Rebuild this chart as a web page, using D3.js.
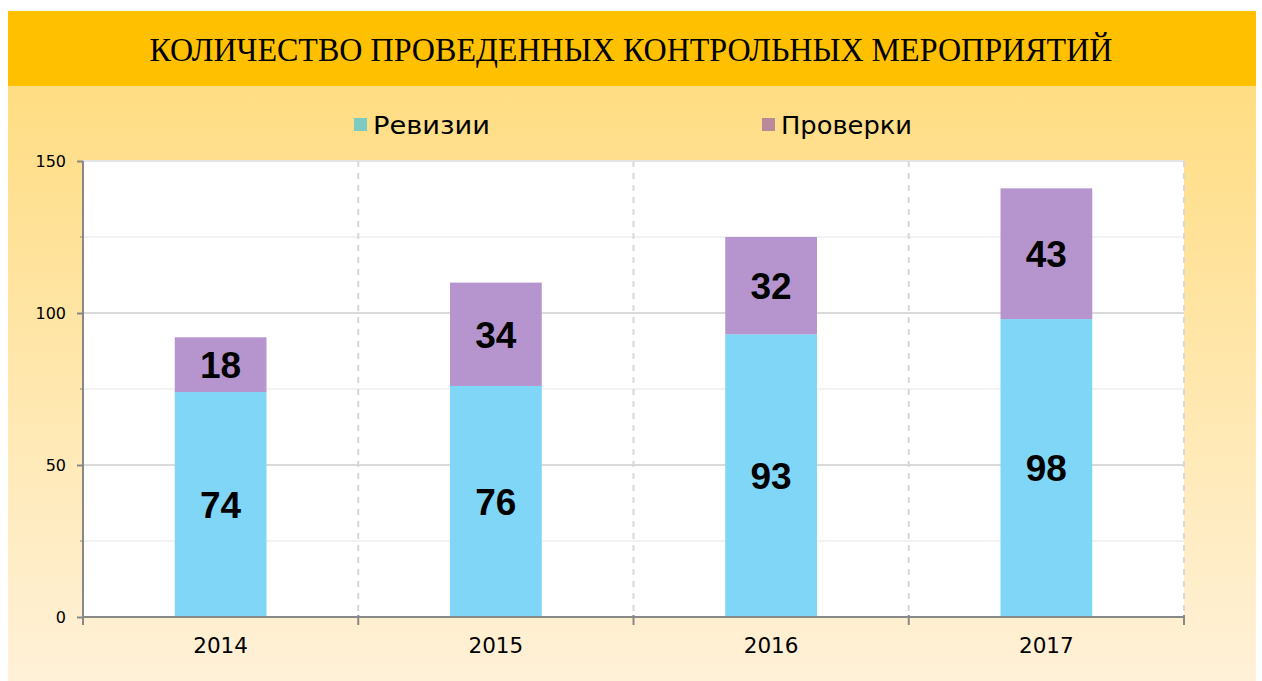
<!DOCTYPE html>
<html>
<head>
<meta charset="utf-8">
<script src="https://cdn.jsdelivr.net/npm/d3@7"></script>
<style>
  body { margin: 0; background: #fff; }
  svg { display: block; }
</style>
</head>
<body>
<div id="chart"></div>
<script>
var years = ['2014', '2015', '2016', '2017'];
var revizii = [74, 76, 93, 98];
var proverki = [18, 34, 32, 43];
var seriesNames = ['Ревизии', 'Проверки'];
var yTicks = [0, 50, 100, 150];
var minorTicks = [25, 75, 125];

var W = 1262, H = 681
  , plot = { left: 83, top: 161, right: 1184, bottom: 617 }
  , barColors = ['#80d6f7', '#b695cf']
  , legendColors = ['#7fcbc4', '#b98a99']
  , svg, defs, grad, x, y, stack, layers, g
;

svg = d3.select('#chart').append('svg')
  .attr('width', W).attr('height', H);

defs = svg.append('defs');
grad = defs.append('linearGradient')
  .attr('id', 'bg').attr('x1', 0).attr('y1', 0).attr('x2', 0).attr('y2', 1);
grad.append('stop').attr('offset', '0%').attr('stop-color', '#ffdd83');
grad.append('stop').attr('offset', '100%').attr('stop-color', '#fff1d8');

// background panel + banner
svg.append('rect').attr('x', 8).attr('y', 86).attr('width', 1248).attr('height', H - 86)
  .attr('fill', 'url(#bg)');
svg.append('rect').attr('x', 8).attr('y', 11).attr('width', 1248).attr('height', 75)
  .attr('fill', '#ffc000');
svg.append('text')
  .attr('x', 631).attr('y', 61)
  .attr('text-anchor', 'middle')
  .attr('font-family', '"Liberation Serif", "Times New Roman", serif')
  .attr('font-size', 33)
  .attr('textLength', 963).attr('lengthAdjust', 'spacingAndGlyphs')
  .attr('fill', '#000')
  .text('КОЛИЧЕСТВО ПРОВЕДЕННЫХ КОНТРОЛЬНЫХ МЕРОПРИЯТИЙ');

// legend
var legendX = [354, 762], legendW = [117, 131];
seriesNames.forEach(function (name, i) {
  svg.append('rect').attr('x', legendX[i]).attr('y', 118)
    .attr('width', 13).attr('height', 13).attr('fill', legendColors[i]);
  svg.append('text').attr('x', legendX[i] + 19).attr('y', 134)
    .attr('font-family', '"DejaVu Sans", Verdana, sans-serif')
    .attr('font-size', 25).attr('fill', '#000')
    .attr('textLength', legendW[i]).attr('lengthAdjust', 'spacingAndGlyphs')
    .text(name);
});

x = d3.scaleBand().domain(years).range([plot.left, plot.right]).paddingInner(0).paddingOuter(0);
y = d3.scaleLinear().domain([0, 150]).range([plot.bottom, plot.top]);

// plot background
svg.append('rect')
  .attr('x', plot.left).attr('y', plot.top)
  .attr('width', plot.right - plot.left).attr('height', plot.bottom - plot.top)
  .attr('fill', '#fff');

// horizontal grid
svg.append('g').selectAll('line.minor').data(minorTicks).enter().append('line')
  .attr('x1', plot.left).attr('x2', plot.right)
  .attr('y1', function (d) { return y(d); }).attr('y2', function (d) { return y(d); })
  .attr('stroke', '#eeeeee').attr('stroke-width', 1.5);
svg.append('g').selectAll('line.major').data(yTicks.slice(1)).enter().append('line')
  .attr('x1', plot.left).attr('x2', plot.right)
  .attr('y1', function (d) { return y(d); }).attr('y2', function (d) { return y(d); })
  .attr('stroke', function (d) { return d === 150 ? '#e4e4e4' : '#dadada'; })
  .attr('stroke-width', 2);

// vertical dashed separators
svg.append('g').selectAll('line').data(years).enter().append('line')
  .attr('x1', function (d) { return x(d) + x.bandwidth(); })
  .attr('x2', function (d) { return x(d) + x.bandwidth(); })
  .attr('y1', plot.top).attr('y2', plot.bottom)
  .attr('stroke', '#d8d8d8').attr('stroke-width', 2)
  .attr('stroke-dasharray', '6,6');

// stacked bars
stack = d3.stack().keys([0, 1]).value(function (d, k) { return d[k]; });
layers = stack(years.map(function (yr, i) { return [revizii[i], proverki[i]]; }));

g = svg.append('g');
layers.forEach(function (layer, k) {
  g.selectAll('rect.s' + k).data(layer).enter().append('rect')
    .attr('x', function (d, i) { return x(years[i]) + x.bandwidth() / 3; })
    .attr('width', x.bandwidth() / 3)
    .attr('y', function (d) { return y(d[1]); })
    .attr('height', function (d) { return y(d[0]) - y(d[1]); })
    .attr('fill', barColors[k]);
  g.selectAll('text.s' + k).data(layer).enter().append('text')
    .attr('x', function (d, i) { return x(years[i]) + x.bandwidth() / 2; })
    .attr('y', function (d) { return y((d[0] + d[1]) / 2); })
    .attr('dy', '0.36em')
    .attr('text-anchor', 'middle')
    .attr('font-family', '"Liberation Sans", Arial, sans-serif')
    .attr('font-weight', 'bold')
    .attr('font-size', 37)
    .attr('fill', '#000')
    .text(function (d) { return d[1] - d[0]; });
});

// axes
var yAxis = svg.append('g').attr('transform', 'translate(' + plot.left + ',0)')
  .call(d3.axisLeft(y).tickValues(yTicks).tickSize(6).tickPadding(11));
yAxis.append('g').selectAll('line').data(minorTicks).enter().append('line')
  .attr('x1', -3).attr('x2', 0)
  .attr('y1', function (d) { return y(d); }).attr('y2', function (d) { return y(d); })
  .attr('stroke', '#888');

var xAxis = svg.append('g').attr('transform', 'translate(0,' + plot.bottom + ')')
  .call(d3.axisBottom(x).tickSize(0));
xAxis.append('g').selectAll('line').data([plot.left].concat(years.map(function (d) { return x(d) + x.bandwidth(); })))
  .enter().append('line')
  .attr('x1', function (d) { return d; }).attr('x2', function (d) { return d; })
  .attr('y1', -2).attr('y2', 8)
  .attr('stroke', '#888').attr('stroke-width', 2);

[yAxis, xAxis].forEach(function (ax) {
  ax.select('.domain').attr('stroke', '#888').attr('stroke-width', 2);
  ax.selectAll('.tick line').attr('stroke', '#888').attr('stroke-width', 2);
  ax.selectAll('text').attr('fill', '#000')
    .attr('font-family', '"DejaVu Sans", Verdana, sans-serif');
});
yAxis.selectAll('text').attr('font-size', 16);
xAxis.selectAll('.tick text').attr('font-size', 21.5).attr('y', 36).attr('dy', 0);
yAxis.select('.domain').attr('d', 'M0,' + plot.top + 'V' + plot.bottom);
xAxis.select('.domain').attr('d', 'M' + plot.left + ',0H' + plot.right);
</script>
</body>
</html>
